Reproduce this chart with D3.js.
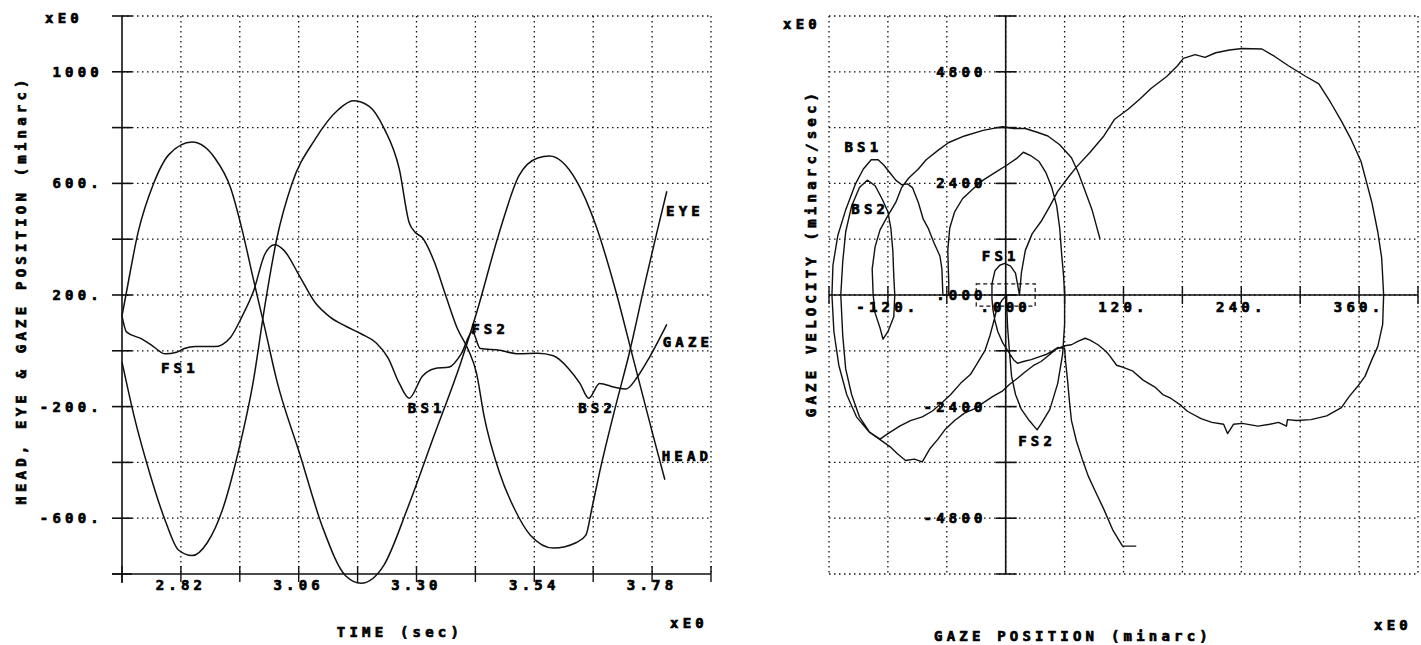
<!DOCTYPE html>
<html>
<head>
<meta charset="utf-8">
<script src="https://cdn.jsdelivr.net/npm/d3@7"></script>
<style>
  html, body { margin: 0; padding: 0; background: #fff; }
  svg text {
    font-family: "DejaVu Sans Mono", "Liberation Mono", monospace;
    font-weight: bold;
    font-size: 14px;
    letter-spacing: 4.2px;
    fill: #000;
    stroke: #000;
    stroke-width: 0.7px;
  }
</style>
</head>
<body>
<svg id="chart" width="1421" height="645"></svg>
<script>
// ---------- Left panel: position traces (time in sec, position in minarc) ----------
const timeGrid = [2.70, 2.82, 2.94, 3.06, 3.18, 3.30, 3.42, 3.54, 3.66, 3.78, 3.90];
const timeLabelValues = [2.82, 3.06, 3.30, 3.54, 3.78];
const timeLabelText = ["2.82", "3.06", "3.30", "3.54", "3.78"];
const posGrid = [-800, -600, -400, -200, 0, 200, 400, 600, 800, 1000, 1200];
const posLabelValues = [1000, 600, 200, -200, -600];
const posLabelText = ["1000", "600.", "200.", "-200.", "-600."];

const headTrace = [
  [2.700, 125], [2.708, 200], [2.733, 426], [2.764, 598], [2.796, 704], [2.843, 748],
  [2.889, 691], [2.921, 585], [2.944, 439], [2.968, 254], [2.991, 81], [3.015, -104],
  [3.062, -369], [3.109, -634], [3.156, -807], [3.187, -833], [3.234, -767], [3.281, -568],
  [3.336, -303], [3.391, -38], [3.422, 134], [3.469, 426], [3.508, 625], [3.547, 691],
  [3.571, 698], [3.625, 612], [3.665, 452], [3.704, 227], [3.743, -38], [3.782, -303],
  [3.806, -462]
];
const eyeTrace = [
  [2.700, -40], [2.725, -237], [2.756, -436], [2.788, -608], [2.815, -714], [2.843, -734],
  [2.874, -687], [2.905, -568], [2.936, -369], [2.968, -104], [2.991, 161], [3.015, 399],
  [3.046, 598], [3.093, 757], [3.140, 863], [3.171, 896], [3.203, 877], [3.234, 797],
  [3.265, 651], [3.285, 460], [3.297, 425], [3.312, 405], [3.336, 320], [3.359, 201],
  [3.383, 81], [3.406, 2], [3.422, -78], [3.438, -237], [3.469, -436], [3.500, -568],
  [3.532, -661], [3.579, -707], [3.626, -687], [3.645, -661], [3.657, -568], [3.673, -436],
  [3.704, -210], [3.735, 2], [3.767, 254], [3.790, 426], [3.810, 572]
];
const gazeTrace = [
  [2.700, 125], [2.709, 68], [2.741, 42], [2.764, 15], [2.788, -11], [2.811, -5],
  [2.827, 8], [2.850, 15], [2.889, 15], [2.921, 48], [2.944, 121], [2.968, 214],
  [2.991, 346], [3.011, 380], [3.030, 360], [3.062, 267], [3.093, 174], [3.124, 121],
  [3.156, 88], [3.187, 61], [3.218, 28], [3.242, -25], [3.265, -117], [3.285, -170],
  [3.312, -91], [3.336, -64], [3.367, -58], [3.391, -11], [3.414, 68], [3.430, 8],
  [3.469, 2], [3.508, -11], [3.547, -9], [3.579, -18], [3.610, -64], [3.633, -117],
  [3.651, -170], [3.673, -117], [3.704, -131], [3.727, -137], [3.751, -91], [3.774, -25],
  [3.810, 95]
];
// saccade / trace labels anchored in data space [time, position, text]
const traceLabels = [
  [2.818, -62, "FS1"], [3.321, -205, "BS1"], [3.450, 78, "FS2"], [3.668, -205, "BS2"],
  [3.847, 501, "EYE"], [3.853, 32, "GAZE"], [3.851, -377, "HEAD"]
];

// ---------- Right panel: gaze phase plane (position minarc, velocity minarc/sec) ----------
const gazeGrid = [-180, -120, -60, 0, 60, 120, 180, 240, 300, 360, 420];
const gazeLabelValues = [-120, 0, 120, 240, 360];
const gazeLabelText = ["-120.", ".000", "120.", "240.", "360."];
const velGrid = [-6000, -4800, -3600, -2400, -1200, 0, 1200, 2400, 3600, 4800, 6000];
const velLabelValues = [4800, 2400, 0, -2400, -4800];
const velLabelText = ["4800", "2400", ".000", "-2400", "-4800"];

const phaseStart = [
  [133, -5400], [119, -5400], [109, -5050], [100, -4610], [91, -4210], [84, -3890],
  [78, -3530], [72, -3140], [67, -2700], [65, -2300], [63, -1830], [61, -1430],
  [60, -1150], [53, -1130], [47, -1210], [41, -1280], [34, -1330], [26, -1390],
  [18, -1430], [12, -1470], [8, -1390], [3, -1230], [-3, -1030], [-8, -790],
  [-11, -550], [-13, -310], [-14, -80]
];
const phaseFS1 = [
  [-14, 0], [-14, 240], [-11, 520], [-6, 640], [-1, 680], [5, 620], [10, 470], [12, 240], [14, 0]
];
const phaseBigUp = [
  [14, 0], [16, 480], [20, 960], [27, 1320], [36, 1580], [45, 1910], [53, 2230], [63, 2510],
  [72, 2750], [86, 3070], [100, 3420], [111, 3780], [125, 4000], [137, 4220], [148, 4440],
  [164, 4700], [175, 4930], [181, 5090], [193, 5170], [203, 5110], [214, 5210], [228, 5270],
  [241, 5300], [261, 5290], [274, 5130], [288, 4930], [305, 4710], [319, 4540], [331, 4140],
  [342, 3740], [352, 3340], [362, 2870], [368, 2390], [373, 1990], [379, 1360], [383, 800],
  [385, 0]
];
const phaseBigDown = [
  [384, -630], [379, -1110], [373, -1390], [366, -1750], [358, -1980], [350, -2180],
  [342, -2420], [327, -2600], [311, -2680], [296, -2700], [287, -2680], [286, -2820],
  [278, -2740], [269, -2780], [257, -2820], [241, -2760], [232, -2780], [226, -2980],
  [222, -2780], [210, -2740], [199, -2660], [185, -2500], [179, -2380], [168, -2220],
  [160, -2140], [152, -1980], [140, -1830], [129, -1630], [119, -1550], [113, -1510],
  [106, -1310], [102, -1210], [94, -1070], [86, -970], [81, -930], [74, -990],
  [67, -1070], [60, -1090]
];
const phaseBS1Down = [
  [60, -1090], [51, -1170], [43, -1310], [36, -1430], [28, -1520], [20, -1650], [12, -1790],
  [4, -1920], [-3, -2060], [-13, -2180], [-23, -2320], [-32, -2450], [-42, -2540],
  [-52, -2700], [-62, -2900], [-69, -3100], [-77, -3300], [-85, -3590], [-93, -3530],
  [-102, -3560], [-110, -3420], [-118, -3260], [-128, -3110], [-139, -2950], [-152, -2620],
  [-162, -2140], [-170, -1510], [-175, -790], [-177, 0]
];
const phaseBS1Up = [
  [-177, 0], [-176, 640], [-171, 1280], [-163, 1830], [-153, 2390], [-145, 2710],
  [-137, 2910], [-130, 2910], [-124, 2790], [-118, 2630], [-112, 2470], [-106, 2370],
  [-100, 2390], [-95, 2310], [-89, 1990], [-84, 1630], [-79, 1440], [-73, 1120],
  [-67, 840], [-65, 560], [-64, 0]
];
const phaseFS2Up = [
  [-64, 0], [-58, 0], [-58, 240], [-59, 960], [-57, 1440], [-52, 1790], [-44, 2070],
  [-34, 2270], [-23, 2470], [-11, 2630], [1, 2790], [12, 2950], [18, 3070], [26, 2990],
  [34, 2870], [41, 2630], [47, 2310], [52, 1910], [55, 1440], [57, 880], [59, 400], [60, 0]
];
const phaseFS2Down = [
  [60, 0], [60, -630], [58, -1270], [53, -1900], [45, -2460], [37, -2740], [32, -2900],
  [24, -2700], [16, -2460], [10, -2140], [6, -1750], [4, -1270], [2, -710], [1, -230],
  [1, 0], [-4, -120], [-9, -300]
];
const phaseBS2Down = [
  [-9, -300], [-12, -550], [-16, -870], [-21, -1190], [-29, -1470], [-36, -1710],
  [-46, -1900], [-56, -2140], [-66, -2340], [-75, -2500], [-85, -2620], [-97, -2700],
  [-108, -2820], [-120, -2980], [-128, -3100], [-139, -2940], [-149, -2620], [-157, -2140],
  [-163, -1590], [-166, -870], [-168, 0]
];
const phaseBS2Up = [
  [-168, 0], [-166, 720], [-163, 1360], [-157, 1910], [-149, 2310], [-141, 2470],
  [-133, 2350], [-126, 2070], [-120, 1790], [-117, 1440], [-115, 960], [-114, 400],
  [-113, 0], [-114, -470], [-120, -790], [-125, -950], [-128, -710], [-133, -390], [-135, 0]
];
const phaseEnd = [
  [-135, 0], [-136, 560], [-133, 1040], [-128, 1400], [-121, 1670], [-112, 1990],
  [-106, 2310], [-99, 2510], [-89, 2710], [-81, 2910], [-69, 3110], [-58, 3280],
  [-42, 3420], [-23, 3540], [-3, 3620], [8, 3580], [20, 3580], [32, 3500], [43, 3420],
  [55, 3230], [67, 2950], [74, 2630], [81, 2230], [88, 1830], [92, 1520], [96, 1210]
];
// dashed marker box around the origin: [x0, x1, v0, v1]
const originBox = [-30, 30, -240, 240];
// saccade labels in the phase plane [position, velocity, text]
const phaseLabels = [
  [-145, 3183, "BS1"], [-138, 1849, "BS2"], [-5, 839, "FS1"], [32, -3140, "FS2"]
];

// ---------- drawing ----------
const svg = d3.select("#chart");
const ink = "#111";
const dotPattern = "1.5 3.5";

function segment(g, x1, y1, x2, y2, dotted, w) {
  g.append("line")
    .attr("x1", x1).attr("y1", y1).attr("x2", x2).attr("y2", y2)
    .attr("stroke", ink)
    .attr("stroke-width", w || (dotted ? 1.3 : 1.5))
    .attr("stroke-dasharray", dotted ? dotPattern : null);
}

function label(g, x, y, text, anchor, rotate) {
  const t = g.append("text")
    .attr("x", x).attr("y", y)
    .attr("text-anchor", anchor || "middle")
    .attr("dominant-baseline", "central")
    .text(text);
  if (rotate) t.attr("transform", `rotate(${rotate},${x},${y})`);
  return t;
}

// ----- left panel -----
const tx = d3.scaleLinear().domain([2.70, 3.90]).range([122, 711]);
const py = d3.scaleLinear().domain([-800, 1200]).range([574, 16]);
const L = svg.append("g");

timeGrid.slice(1).forEach(t => segment(L, tx(t), py(1200), tx(t), py(-800), true));
posGrid.slice(1).forEach(v => segment(L, tx(2.70), py(v), tx(3.90), py(v), true));

segment(L, tx(2.70), py(1200), tx(2.70), py(-800) + 9, false, 1.6);
segment(L, tx(2.70) - 10, py(-800), tx(3.90), py(-800), false, 1.6);
posGrid.forEach(v => segment(L, tx(2.70) - 10, py(v), tx(2.70) + 10, py(v), false, 1.6));
timeGrid.forEach(t => segment(L, tx(t), py(-800) - 8, tx(t), py(-800) + 8, false, 1.4));

const timeLine = d3.line().x(d => tx(d[0])).y(d => py(d[1])).curve(d3.curveMonotoneX);
[headTrace, eyeTrace, gazeTrace].forEach(series => {
  L.append("path").attr("d", timeLine(series))
    .attr("fill", "none").attr("stroke", ink).attr("stroke-width", 1.5)
    .attr("stroke-linejoin", "round");
});

posLabelValues.forEach((v, i) => label(L, tx(2.70) - 19, py(v), posLabelText[i], "end"));
timeLabelValues.forEach((t, i) => label(L, tx(t), py(-800) + 11, timeLabelText[i]));
traceLabels.forEach(d => label(L, tx(d[0]), py(d[1]), d[2]));

label(L, 64, 18, "xE0");
label(L, 689, 623, "xE0");
label(L, 400, 632, "TIME (sec)");
label(L, 21, 290, "HEAD, EYE & GAZE POSITION (minarc)", "middle", -90);

// ----- right panel -----
const gx = d3.scaleLinear().domain([-180, 420]).range([829, 1418]);
const vy = d3.scaleLinear().domain([-6000, 6000]).range([574, 16]);
const R = svg.append("g");

gazeGrid.forEach(p => segment(R, gx(p), vy(6000), gx(p), vy(-6000), true));
velGrid.forEach(v => segment(R, gx(-180), vy(v), gx(420), vy(v), true));

segment(R, gx(0), vy(6000), gx(0), vy(-6000), false, 1.6);
segment(R, gx(-180), vy(0), gx(420), vy(0), false, 1.6);
velGrid.forEach(v => segment(R, gx(0) - 10, vy(v), gx(0) + 11, vy(v), false, 1.6));
gazeGrid.forEach(p => segment(R, gx(p), vy(0) - 9, gx(p), vy(0) + 9, false, 1.4));

R.append("rect")
  .attr("x", gx(originBox[0])).attr("y", vy(originBox[3]))
  .attr("width", gx(originBox[1]) - gx(originBox[0]))
  .attr("height", vy(originBox[2]) - vy(originBox[3]))
  .attr("fill", "none").attr("stroke", ink).attr("stroke-width", 1.2)
  .attr("stroke-dasharray", "4 3");

const phasePath = [].concat(
  phaseStart, phaseFS1, phaseBigUp, phaseBigDown, phaseBS1Down, phaseBS1Up,
  phaseFS2Up, phaseFS2Down, phaseBS2Down, phaseBS2Up, phaseEnd
);
const phaseLine = d3.line().x(d => gx(d[0])).y(d => vy(d[1]));
R.append("path").attr("d", phaseLine(phasePath))
  .attr("fill", "none").attr("stroke", ink).attr("stroke-width", 1.4)
  .attr("stroke-linejoin", "round");

velLabelValues.forEach((v, i) => label(R, gx(0) - 19, vy(v), velLabelText[i], "end"));
gazeLabelValues.forEach((p, i) => label(R, gx(p), vy(0) + 12, gazeLabelText[i]));
phaseLabels.forEach(d => label(R, gx(d[0]), vy(d[1]), d[2]));

label(R, 802, 24, "xE0");
label(R, 1393, 625, "xE0");
label(R, 1073, 636, "GAZE POSITION (minarc)");
label(R, 811, 253, "GAZE VELOCITY (minarc/sec)", "middle", -90);
</script>
</body>
</html>
